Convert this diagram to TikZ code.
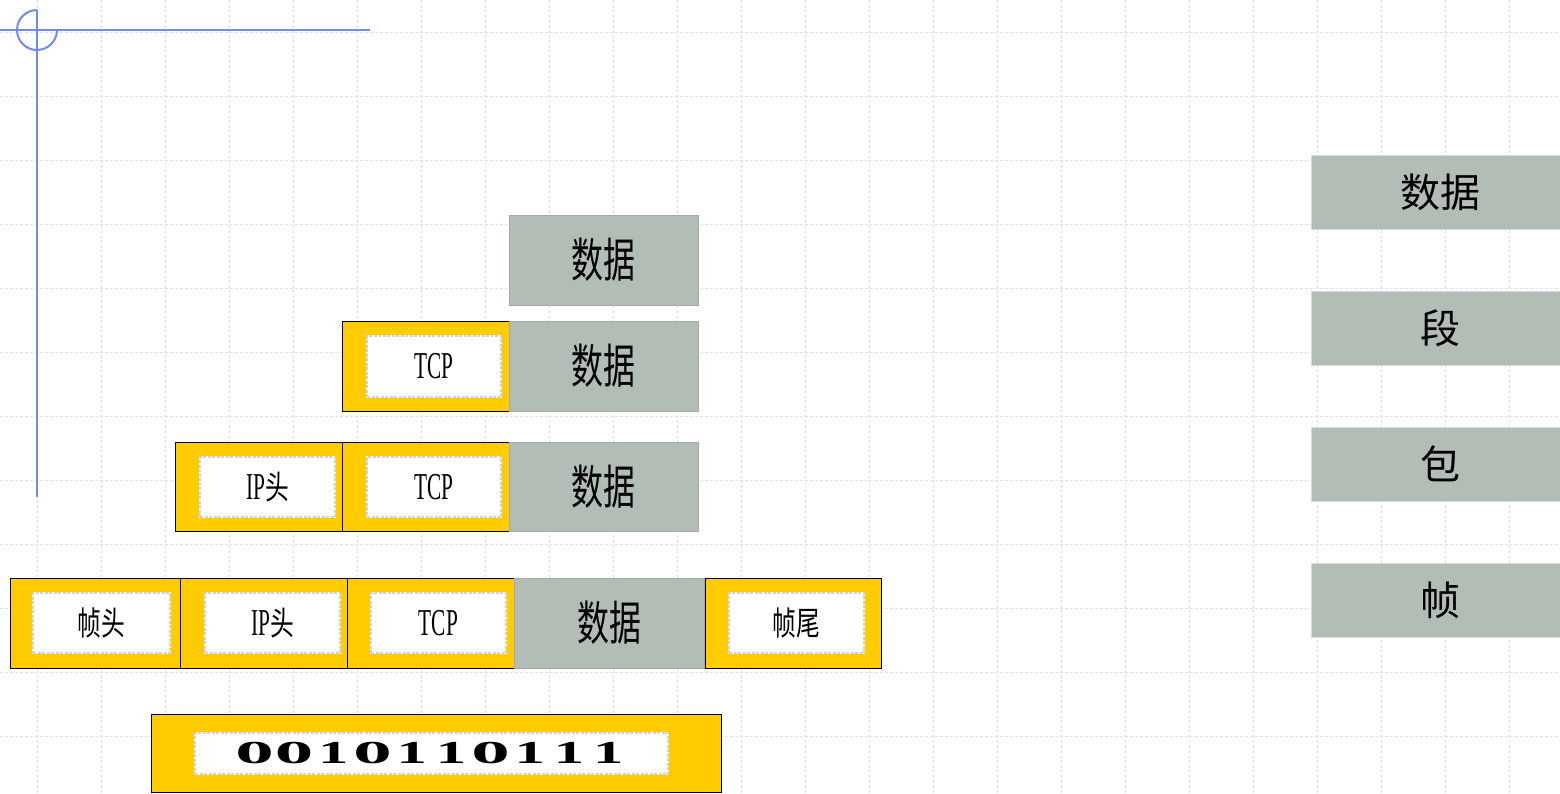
\documentclass[tikz,border=0pt]{standalone}
\usepackage{fontspec}
\usepackage{graphicx}
\setmainfont{Liberation Serif}
\newfontfamily\cjk{Noto Sans CJK SC}
\definecolor{ylw}{RGB}{255,204,0}
\definecolor{gry}{RGB}{177,189,181}
\definecolor{gedge}{RGB}{165,170,168}
\definecolor{redge}{RGB}{215,218,216}
\definecolor{blu}{RGB}{110,140,242}
\definecolor{gridc}{RGB}{216,224,250}
\newcommand\latn[1]{\scalebox{0.56}[1]{\fontsize{38}{38}\selectfont #1}}
\newcommand\hanz[1]{\scalebox{0.72}[1]{\cjk\fontsize{33}{33}\selectfont #1}}
\newcommand\bigd[1]{\scalebox{0.68}[1]{\cjk\fontsize{47}{47}\selectfont #1}}
\newcommand\bzero{\makebox[39.3pt]{\scalebox{2.4}[1]{0}}}
\newcommand\bone{\makebox[39.3pt]{\scalebox{1.9}[1]{1}}}
\tikzset{
  gridl/.style={draw=gridc, line width=1pt, dash pattern=on 3pt off 2pt},
  ybox/.style={rectangle, fill=ylw, draw=black, line width=0.8pt, inner sep=0pt, minimum height=90pt},
  wbox/.style={rectangle, fill=white, draw=black!18, line width=1.8pt, dash pattern=on 3pt off 1.5pt,
     preaction={draw=white, solid}, inner sep=0pt, minimum height=60pt, minimum width=135pt},
  gbox/.style={rectangle, fill=gry, draw=gedge, line width=0.8pt, inner sep=0pt, minimum width=189pt, minimum height=90pt},
  rbox/.style={rectangle, fill=gry, draw=redge, line width=1pt, inner sep=0pt, minimum width=258pt,
     minimum height=74pt, font=\cjk\fontsize{40}{40}\selectfont},
  deco/.style={draw=blu, line width=2pt}
}
\begin{document}
\begin{tikzpicture}[x=1pt,y=-1pt]
\useasboundingbox (0,0) rectangle (1560,793);
\fill[white] (0,0) rectangle (1560,793);
% background grid
\foreach \x in {37,101,...,1549} \draw[gridl] (\x,0) -- (\x,793);
\foreach \y in {32,96,...,760} \draw[gridl] (0,\y) -- (1560,\y);

% row 1
\node[gbox] (d1) at (603.5,260) {\bigd{数据}};

% row 2
\node[ybox, minimum width=167pt] (t2) at (425.5,366) {};
\node[wbox, minimum width=134pt, minimum height=61pt] (t2i) at (434,366.5) {\latn{TCP}};
\node[gbox] (d2) at (603.5,366) {\bigd{数据}};

% row 3
\node[ybox, minimum width=167pt, minimum height=89pt] (ip3) at (258.5,486.5) {};
\node[wbox] (ip3i) at (267.5,487) {\latn{IP}\hanz{头}};
\node[ybox, minimum width=167pt, minimum height=89pt] (t3) at (425.5,486.5) {};
\node[wbox, minimum width=134pt] (t3i) at (434,487) {\latn{TCP}};
\node[gbox, minimum height=89pt] (d3) at (603.5,486.5) {\bigd{数据}};

% row 4
\node[ybox, minimum width=170pt] (fh) at (95,623) {};
\node[wbox, minimum width=137pt] (fhi) at (101.5,623) {\hanz{帧头}};
\node[ybox, minimum width=167pt] (ip4) at (263.5,623) {};
\node[wbox] (ip4i) at (272.5,623) {\latn{IP}\hanz{头}};
\node[ybox, minimum width=167pt] (t4) at (430.5,623) {};
\node[wbox] (t4i) at (438.5,623) {\latn{TCP}};
\node[gbox, minimum width=190pt] (d4) at (609,623) {\bigd{数据}};
\node[ybox, minimum width=176pt] (ft) at (793,623) {};
\node[wbox] (fti) at (796.5,623) {\hanz{帧尾}};

% row 5
\node[ybox, minimum width=570pt, minimum height=78pt] (bin) at (436,753) {};
\node[wbox, minimum width=473pt, minimum height=41pt] (bini) at (431.5,753.5)
  {\bfseries\fontsize{32}{32}\selectfont\bzero\bzero\bone\bzero\bone\bone\bzero\bone\bone\bone};

% right labels
\node[rbox] (lda) at (1440,192) {数据};
\node[rbox] (lseg) at (1440,328) {段};
\node[rbox] (lpkt) at (1440,464) {包};
\node[rbox] (lfrm) at (1440,600) {帧};

% corner decoration
\draw[deco] (0,30) -- (370,30);
\draw[deco] (37,10) -- (37,497);
\draw[deco] (37,10) arc[start angle=90, end angle=360, radius=20pt];
\end{tikzpicture}
\end{document}
